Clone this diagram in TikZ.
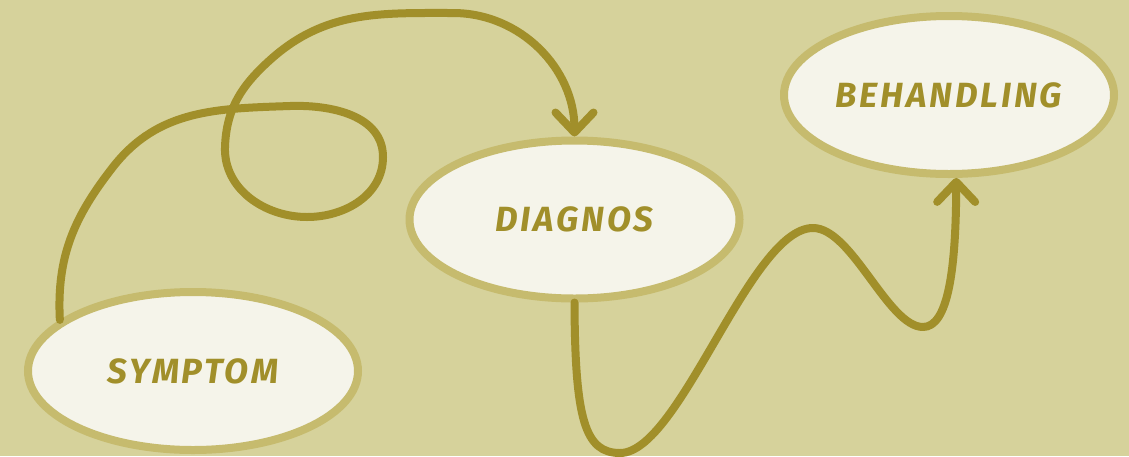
\documentclass[tikz,border=0pt]{standalone}
\usepackage{fontspec}
\setmainfont{Fira Sans}
\usetikzlibrary{arrows.meta,shapes.geometric}
\definecolor{bgcol}{RGB}{214,210,155}
\definecolor{fillcol}{RGB}{245,244,234}
\definecolor{bordercol}{RGB}{198,187,110}
\definecolor{olive}{RGB}{161,143,42}
\tikzset{
  state/.style={ellipse, draw=bordercol, fill=fillcol, line width=8pt,
    minimum width=330pt, minimum height=158pt, inner sep=0pt,
    text=olive, font=\fontsize{35}{35}\selectfont\bfseries\itshape\addfontfeatures{LetterSpace=8}},
  conn/.style={draw=olive, line width=8pt, line cap=round, line join=round},
  tip/.style={-{Straight Barb[length=20pt,width=38pt,round]}}
}
\begin{document}
\begin{tikzpicture}[x=1pt,y=1pt]
\fill[bgcol] (0,0) rectangle (1129,-456);
\useasboundingbox (0,0) rectangle (1129,-456);
\node[state] (S) at (193,-371) {SYMPTOM};
\node[state] (D) at (574.5,-219.5) {DIAGNOS};
\node[state] (B) at (949,-95) {BEHANDLING};
\coordinate (s1) at (113,-167);
\coordinate (s2) at (290,-106);
\coordinate (s3) at (383,-157);
\coordinate (s4) at (307,-217);
\coordinate (s5) at (225,-147);
\coordinate (s6) at (270,-60);
\coordinate (s7) at (453,-13);
\draw[conn,tip] (S.159) to[out=93,in=232] (s1)
  to[out=52,in=182] (s2) to[out=2,in=90] (s3) to[out=270,in=0] (s4)
  to[out=180,in=268] (s5) to[out=88,in=222] (s6) to[out=42,in=180] (s7)
  to[out=0,in=90] (D.north);
\coordinate (t1) at (620,-453);
\coordinate (t2) at (813,-228);
\coordinate (t3) at (923,-327);
\draw[conn,tip] (D.south) .. controls (575,-420) and (585,-453) .. (t1)
  .. controls (680,-453) and (750,-228) .. (t2)
  .. controls (852,-228) and (888,-327) .. (t3)
  .. controls (948,-327) and (956,-270) .. (B.-85);
\end{tikzpicture}
\end{document}
